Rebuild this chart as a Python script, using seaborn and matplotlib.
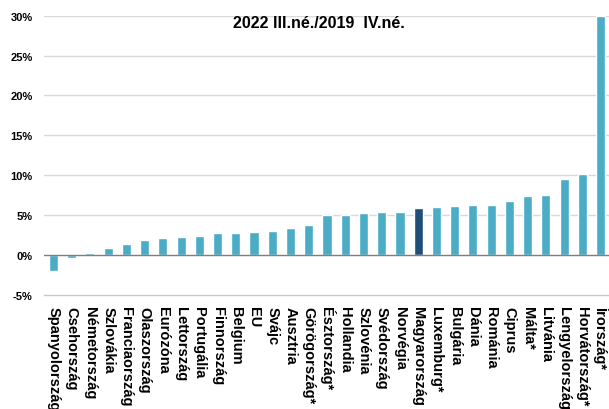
import matplotlib
matplotlib.use("Agg")
import matplotlib.pyplot as plt
import seaborn as sns
import pandas as pd

countries = ["Spanyolország", "Csehország", "Németország", "Szlovákia", "Franciaország",
             "Olaszország", "Eurózóna", "Lettország", "Portugália", "Finnország",
             "Belgium", "EU", "Svájc", "Ausztria", "Görögország*", "Észtország*",
             "Hollandia", "Szlovénia", "Svédország", "Norvégia", "Magyarország",
             "Luxemburg*", "Bulgária", "Dánia", "Románia", "Ciprus", "Málta*",
             "Litvánia", "Lengyelország", "Horvátország*", "Írország*"]
values = [-2.0, -0.37, 0.29, 0.9, 1.35, 1.9, 2.1, 2.25, 2.4, 2.8,
          2.8, 2.9, 3.0, 3.4, 3.8, 5.0, 5.0, 5.25, 5.32, 5.32, 5.86,
          5.99, 6.11, 6.23, 6.31, 6.73, 7.43, 7.55, 9.5, 10.1, 30.0]
highlight = "Magyarország"
title = "2022 III.né./2019  IV.né."
yticks = [-5, 0, 5, 10, 15, 20, 25, 30]

sns.set_theme(style="white")
plt.rcParams['font.family'] = ['Liberation Sans', 'DejaVu Sans']

light = "#4BACC6"
dark = "#1F4E79"
palette = {c: (dark if c == highlight else light) for c in countries}

df = pd.DataFrame({"country": countries, "value": values})

fig = plt.figure(figsize=(6.09, 4.10), dpi=100)
ax = fig.add_axes([0.0722, 0.2788, 0.9295, 0.6805])

sns.barplot(data=df, x="country", y="value", hue="country", palette=palette,
            legend=False, width=0.5, saturation=1, ax=ax, zorder=3)

ax.set_ylim(-5, 30)
ax.set_xlim(-0.52, len(countries) - 0.48)
ax.set_yticks(yticks)
ax.set_yticklabels([f"{t}%" for t in yticks], fontsize=8, fontweight="bold", color="black")
ax.set_xticks(range(len(countries)))
ax.set_xticklabels(countries, rotation=270, fontsize=10.5, fontweight="bold",
                   color="black", va="top", ha="center")
ax.tick_params(axis="y", length=0, pad=8)
ax.tick_params(axis="x", length=0, pad=8)
ax.set_xlabel("")
ax.set_ylabel("")

for t in yticks:
    if t in (-5, 0):
        continue
    ax.axhline(t, color="#D9D9D9", lw=1, zorder=1)
ax.axhline(0, color="#7F7F7F", lw=1, zorder=4)

for s in ["left", "right", "top"]:
    ax.spines[s].set_visible(False)
ax.spines["bottom"].set_color("#C8C8C8")
ax.spines["bottom"].set_linewidth(1)

ax.text(0.485, 29.1, title, transform=ax.get_yaxis_transform(), ha="center", va="center",
        fontsize=11.5, fontweight="bold", color="black")

fig.savefig("out.png", dpi=100)
